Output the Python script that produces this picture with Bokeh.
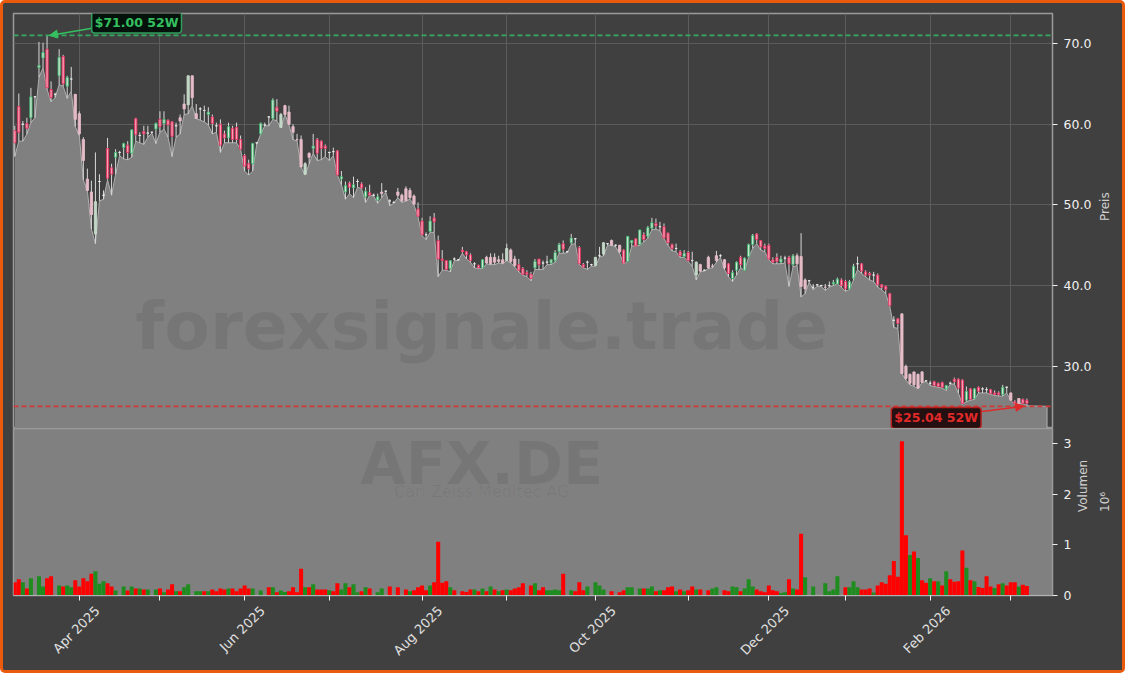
import math
from bokeh.plotting import figure
from bokeh.layouts import column
from bokeh.models import (Range1d, FixedTicker, Span, Label, Arrow, NormalHead,
                          NumeralTickFormatter, LinearAxis)
from bokeh.embed import file_html
from bokeh.resources import INLINE

open_ = [59.2,62.2,60.0,60.1,60.8,63.4,67.0,68.2,69.3,64.3,
63.7,66.0,68.4,64.7,65.6,63.7,61.3,58.1,53.2,51.6,
46.4,52.9,51.2,57.0,54.6,55.9,56.5,57.1,57.4,56.4,
60.7,58.6,59.1,58.9,59.0,59.4,60.6,60.1,60.5,60.3,
59.8,60.8,62.5,62.4,66.0,61.3,61.9,61.7,61.2,60.9,
59.8,60.0,58.8,58.3,59.5,59.6,58.1,56.1,55.1,55.1,
57.7,58.8,59.9,60.9,60.7,62.1,59.6,62.3,61.5,59.7,
58.1,58.1,53.8,56.4,57.0,58.1,57.9,57.3,56.5,56.6,
56.7,53.2,51.6,52.7,52.1,52.9,52.6,51.0,51.5,51.2,
50.6,51.6,51.7,50.5,50.3,51.6,51.2,52.0,51.8,51.1,
49.5,48.0,46.3,46.7,48.4,45.6,43.3,43.1,42.1,43.3,
43.2,44.4,44.2,43.8,42.7,42.5,42.2,43.5,43.5,43.5,
43.2,43.2,43.1,44.4,43.3,42.6,42.1,41.6,41.4,42.2,
43.3,42.8,42.9,42.8,43.1,44.2,45.2,44.2,45.3,45.8,
44.7,42.6,42.9,42.6,42.5,43.7,43.9,45.2,45.6,45.0,
45.0,44.4,43.0,45.3,45.8,45.1,46.3,46.1,47.1,47.7,
47.3,47.3,46.5,45.1,44.6,44.2,43.6,44.1,43.1,41.3,
42.6,41.9,43.5,42.4,43.7,43.7,43.2,42.7,40.9,41.9,
43.5,41.9,43.6,45.1,46.4,45.6,44.9,45.0,43.2,43.5,
42.9,43.4,43.5,42.6,43.7,43.6,40.7,40.6,39.8,40.1,
40.0,39.8,40.0,40.2,40.2,40.7,40.5,39.6,40.9,42.7,
42.7,41.7,41.5,41.3,41.3,40.1,39.9,39.0,35.7,35.9,
36.5,30.0,29.0,29.3,29.0,29.3,28.2,27.9,28.1,27.9,
28.0,27.2,27.9,28.4,28.4,28.3,25.8,27.2,26.0,27.4,
27.2,27.1,27.1,26.7,26.7,26.5,27.4,26.7,25.6,26.0,
25.9,25.8]
high = [59.8,63.8,60.4,60.8,64.5,63.5,70.2,70.1,71.0,65.3,
63.9,69.3,68.6,66.0,67.1,63.7,61.6,58.4,54.5,53.0,
56.5,53.8,51.8,58.3,55.1,56.9,56.7,57.7,57.9,59.3,
60.8,59.0,59.8,59.8,59.1,60.2,61.6,61.6,60.6,60.4,
60.2,61.2,63.7,66.0,66.0,62.5,62.1,62.3,62.1,61.2,
60.2,60.6,59.2,60.2,59.8,60.2,58.6,56.3,55.6,57.7,
57.7,60.2,60.2,61.0,63.2,63.1,61.4,62.4,62.3,60.0,
58.8,58.6,55.3,56.5,58.8,58.3,58.0,57.5,56.6,57.1,
56.8,54.2,52.9,52.9,53.5,53.2,52.8,52.2,52.5,51.4,
51.4,52.7,51.8,50.7,50.5,52.1,51.4,52.3,52.1,51.3,
50.3,48.4,46.6,48.6,49.0,46.2,44.4,43.1,43.1,43.5,
43.3,44.8,44.3,44.0,42.9,42.6,43.3,43.7,44.0,44.0,
43.7,44.0,45.2,44.6,43.7,43.3,42.3,41.9,41.7,43.3,
43.3,43.1,43.7,43.3,44.4,45.3,45.6,44.3,46.4,45.9,
44.9,42.8,43.1,42.7,43.5,44.8,45.4,45.2,45.7,45.1,
45.0,44.5,46.1,45.6,45.9,46.9,46.6,47.4,48.4,48.3,
47.9,47.7,46.6,45.2,45.2,44.4,44.4,44.3,44.2,43.0,
42.7,42.0,43.7,42.7,44.3,43.9,43.3,42.8,41.9,43.0,
43.7,43.5,45.2,46.4,46.5,45.6,45.2,45.2,43.5,44.0,
43.7,43.7,43.7,43.9,44.0,46.5,40.9,40.7,40.2,40.2,
40.1,40.2,40.5,40.7,41.0,40.9,40.7,40.7,42.7,43.6,
42.8,41.9,41.7,41.7,41.5,40.2,40.0,39.1,36.2,36.0,
36.5,30.2,29.1,29.3,29.1,29.4,28.3,28.2,28.2,28.0,
28.1,27.7,28.1,28.6,28.5,28.4,27.5,27.3,27.3,27.5,
27.4,27.4,27.2,27.0,26.9,27.7,27.5,26.7,25.8,26.0,
26.0,26.0]
low = [56.0,57.9,57.9,58.8,60.2,60.8,65.8,67.0,64.3,62.8,
63.3,64.9,64.7,63.2,64.1,59.7,58.6,53.1,51.8,47.0,
45.2,50.5,50.7,53.1,51.2,53.8,56.1,55.7,55.6,55.9,
57.9,57.7,57.5,58.4,58.9,57.6,59.0,59.4,58.4,56.0,
58.4,58.8,61.2,61.3,62.3,60.7,60.5,60.3,59.9,58.8,
59.0,56.5,57.7,57.7,57.7,57.7,56.9,54.2,53.7,54.2,
57.5,58.8,59.8,59.8,60.6,60.4,59.6,61.2,59.9,58.1,
57.9,54.7,53.7,55.1,56.4,55.5,55.6,56.0,55.5,56.1,
53.7,52.5,50.7,51.4,50.9,52.2,52.0,50.3,51.2,51.1,
50.2,50.9,51.6,49.9,50.2,50.9,50.3,50.5,50.7,50.0,
48.5,46.2,45.7,46.6,46.6,41.1,41.9,41.9,41.7,43.1,
43.1,44.0,43.3,42.9,42.2,42.1,42.1,42.7,42.6,42.6,
42.8,42.7,43.1,42.8,42.3,41.7,41.3,41.1,40.6,42.0,
42.0,42.0,42.6,42.6,42.9,44.0,44.0,44.1,45.1,45.2,
42.6,42.2,42.0,42.4,42.4,43.5,43.7,45.0,45.0,44.8,
44.0,42.7,43.0,44.9,44.9,45.0,45.4,45.9,46.9,47.0,
46.8,45.8,45.0,44.3,44.2,43.5,43.5,43.0,42.4,40.7,
41.7,41.8,42.1,42.2,42.9,43.5,42.0,41.1,40.5,41.3,
42.2,41.9,43.5,44.6,45.2,44.4,44.2,43.2,42.7,42.7,
42.7,42.8,39.9,42.3,42.5,38.6,39.0,40.4,39.5,39.9,
39.9,39.4,39.8,40.0,40.2,39.8,39.3,39.5,40.7,42.0,
41.5,41.1,40.7,40.5,39.8,39.5,39.0,37.4,34.8,34.7,
29.1,28.3,27.7,27.5,27.2,28.0,28.1,27.6,27.5,27.4,
27.3,27.0,27.8,27.8,26.7,25.3,25.6,25.8,25.9,26.7,
26.7,26.7,26.5,26.4,26.3,26.3,26.7,25.8,25.3,25.4,
25.4,25.1]
close = [57.7,59.0,60.0,59.5,63.4,63.4,67.3,68.9,64.5,63.3,
63.7,68.3,65.0,65.8,65.6,60.6,58.8,55.5,51.8,48.8,
50.4,52.9,51.2,53.3,53.8,56.5,56.5,57.6,56.5,59.3,
58.7,58.6,58.8,58.9,59.0,60.1,59.7,60.6,59.9,58.5,
59.8,60.4,61.9,66.0,63.3,60.7,61.9,61.7,61.5,60.1,
59.8,57.4,58.3,59.7,58.1,58.1,56.9,54.8,54.5,57.6,
57.7,60.1,59.9,60.9,63.0,61.6,61.2,61.2,60.0,59.0,
58.1,54.7,55.1,55.9,57.3,56.4,57.0,57.0,56.5,56.6,
53.7,53.5,52.4,52.2,52.5,52.9,52.1,51.7,51.2,51.2,
51.0,51.4,51.7,50.5,50.3,51.2,50.5,50.5,50.9,50.1,
48.6,46.3,46.3,48.0,47.9,43.3,43.1,42.0,43.1,43.3,
43.2,44.2,43.8,43.1,42.7,42.2,43.2,42.8,42.7,42.9,
43.0,42.8,44.6,43.0,42.5,41.9,41.4,41.4,40.9,43.0,
42.6,42.8,42.9,43.2,44.1,45.1,44.5,44.2,45.9,45.8,
42.7,42.3,42.9,42.6,43.5,43.7,45.3,45.2,45.0,45.0,
44.2,42.8,46.1,45.6,44.9,46.9,45.7,47.2,47.8,47.4,
47.3,45.9,45.3,44.6,44.6,43.7,44.0,43.1,43.1,42.9,
41.8,41.9,42.2,42.4,43.1,43.7,42.2,41.5,41.6,42.9,
42.6,43.4,45.1,46.2,45.7,44.8,44.6,43.3,42.9,43.0,
43.3,43.4,42.7,43.7,42.7,39.9,39.6,40.6,39.8,40.1,
40.0,39.8,40.0,40.4,40.8,40.0,39.6,40.5,42.4,42.7,
41.8,41.3,41.3,41.3,40.1,39.8,39.5,37.5,35.7,35.3,
29.1,28.5,27.9,27.7,27.3,28.0,28.2,27.9,27.6,27.5,
27.4,27.6,27.9,28.1,27.3,25.4,26.9,25.9,27.2,26.9,
27.2,27.1,26.6,26.5,26.5,27.4,27.4,25.8,25.4,25.4,
25.4,25.4]
pale_days = [15,16,17,18,19,20,41,42,43,44,45,66,67,68,69,70,71,72,73,91,95,96,97,98,99,
             117,118,119,120,121,122,123,124,144,146,148,150,169,170,172,173,174,176,
             194,195,196,201,220,221,222,223,224,225,247,249]

volume_m = [.26,.32,.26,.14,.34,0,.38,.18,.34,.38,
0,.20,.18,.20,.165,.30,.18,.34,.28,.43,
.48,.23,.28,.24,.18,.10,0,.18,.10,.18,
.14,.14,.12,.12,0,.12,.14,.065,.12,.22,
.085,.085,.165,.22,0,.085,.085,.085,.085,.12,
.085,.14,.12,.14,.14,.085,.14,.20,.14,.14,
0,.10,0,.165,.165,.065,.10,.07,.085,.165,
.065,.53,.165,.165,.22,.12,.12,.12,.105,.085,
.24,.12,.24,.165,.22,.065,.085,.165,.14,0,
.065,.14,0,.18,0,.165,0,.12,.085,.105,
.165,.20,.105,.20,.26,1.06,.25,.28,.165,.105,
0,.085,.07,.12,.12,.085,.14,.085,.18,.12,
.085,.105,.12,.105,.14,.165,.24,0,.20,.24,
.105,.165,.105,.105,.12,.105,.43,0,.105,.085,
.26,.105,.18,0,.26,.20,.12,0,.085,0,
.065,.105,.165,.165,0,.14,.14,.14,.18,.085,
.105,.105,.165,.18,.085,.12,.085,.105,.18,.12,
.12,0,.105,.14,.165,0,.105,.085,.18,.165,
.085,.14,.32,.18,.12,.085,.065,.20,.105,.085,
.05,.065,.32,.14,.12,1.22,.36,0,.18,0,
0,.24,.085,.12,.38,0,.165,.165,.28,.165,
.12,.12,.14,.06,.20,.26,.23,.40,.68,.37,
3.05,1.19,.80,.87,.74,.30,.25,.34,.28,.28,
.20,.48,.32,.27,.28,.89,.55,.30,.28,.17,
.15,.38,.18,.15,.22,.24,.20,.26,.26,.18,
.21,.19]
volume_side_rows = ["rrgrggggrr","rgrggrrrrr","gggrrgggrg","rgrgggrgrr","grgggggrgr",
"rrrgrrrrrg","gggrgrggrr","rrgrgrrrgr","rggrggrgrr","gggrrrrrgr",
"rrrgrrrrgr","rrrrgrgrgr","grgrrrrrrg","rrggggrrgr","rrgggggrrr",
"rrggggrggr","grrrgrgrrg","rrrgggrrgg","rgggrrrrrr","ggrgrrgggg",
"gggggrrggg","rrrgrrrrrr","rrgrgrrgrg","rgrrrrgrgr","rrrgrgrrrg","rr"]
volume_side = list("".join(volume_side_rows))
month_days = [16,36,57,78,101,122,144,167,187,206,227,247]
month_labels = ["Apr 2025","","Jun 2025","","Aug 2025","","Oct 2025","","Dec 2025","","Feb 2026",""]
price_ticks = [30,40,50,60,70]
volume_ticks = [0,1,2,3]
high_52w = 71.00
low_52w = 25.04
title_site = "forexsignale.trade"
title_symbol = "AFX.DE"
title_company = "Carl Zeiss Meditec AG"

BG = "#404040"
n = len(close)
days = list(range(n))
xr = (-0.32, 257.35)
yr = (22.29, 73.72)

p1 = figure(width=1119, height=425, x_range=Range1d(*xr), y_range=Range1d(*yr),
            y_axis_location="right", toolbar_location=None, output_backend="svg",
            background_fill_color=BG, border_fill_color=BG,
            min_border_left=10, min_border_right=68, min_border_top=10, min_border_bottom=0)
p2 = figure(width=1119, height=242, x_range=p1.x_range, y_range=Range1d(0, 3.3),
            y_axis_location="right", toolbar_location=None, output_backend="svg",
            background_fill_color="#808080", border_fill_color=BG,
            min_border_left=10, min_border_right=68, min_border_top=0, min_border_bottom=75)
for p in (p1, p2):
    p.outline_line_color = "#9a9a9a"
    p.outline_line_width = 1.5
    ax = p.yaxis[0]
    ax.axis_line_color = "#9a9a9a"
    ax.major_tick_line_color = "#f0f0f0"
    ax.major_tick_out = 5
    ax.major_tick_in = 0
    ax.minor_tick_line_color = None
    ax.major_label_standoff = 6
    ax.major_label_text_color = "#f0f0f0"
    ax.major_label_text_font = "DejaVu Sans"
    ax.major_label_text_font_size = "12.5px"
    ax.axis_label_text_color = "#d0d0d0"
    ax.axis_label_text_font = "DejaVu Sans"
    ax.axis_label_text_font_style = "normal"
    ax.axis_label_text_font_size = "12px"
    ax.axis_label_text_align = "center"

p1.xaxis.visible = False
p1.xgrid[0].ticker = FixedTicker(ticks=month_days)
p1.ygrid[0].ticker = FixedTicker(ticks=price_ticks)
p1.xgrid.grid_line_color = "#5c5c5c"
p1.ygrid.grid_line_color = "#5c5c5c"
p1.yaxis[0].ticker = FixedTicker(ticks=price_ticks)
p1.yaxis[0].formatter = NumeralTickFormatter(format="0.0")
p1.yaxis[0].axis_label = "Preis"
p1.yaxis[0].axis_label_orientation = math.pi / 2
p1.yaxis[0].axis_label_standoff = 11

# area under the lows, continued flat at the 52-week low
p1.varea(x=days + [256], y1=low + [low_52w], y2=[yr[0]] * (n + 1), fill_color="#808080")
p1.line(x=days + [256, 256], y=low + [low_52w, yr[0]], line_color="#b0b0b0", line_width=1)

p1.add_layout(Label(x=115.8, y=35.05, text=title_site, text_font="DejaVu Sans",
                    text_font_style="bold", text_font_size="66.5px", text_color="#000000",
                    text_alpha=0.075, text_align="center", text_baseline="middle"))

p1.segment(x0=days, y0=low, x1=days, y1=high, line_color="#d8d8d8", line_width=1)
pale = set(pale_days)
def style(i):
    up = close[i] > open_[i]
    flat = close[i] == open_[i]
    if i in pale:
        return ("#c4d8c8", "#c4d8c8") if up else ("#e6bcc8", "#e6bcc8")
    if flat:
        return ("#e8e8e8", "#f0f0f0")
    return ("#3fb56e", "#d5e6da") if up else ("#e6305f", "#f7a3b6")
styles_ = [style(i) for i in days]
p1.vbar(x=days, bottom=[min(a, b) for a, b in zip(open_, close)],
        top=[max(a, b) for a, b in zip(open_, close)], width=0.55,
        line_color=[s[0] for s in styles_], fill_color=[s[1] for s in styles_], line_width=0.9)

p1.add_layout(Span(location=high_52w, dimension="width", line_color="#35a860",
                   line_dash="5 3", line_width=1.8))
p1.add_layout(Span(location=low_52w, dimension="width", line_color="#cf3a36",
                   line_dash="5 3", line_width=1.8))
p1.add_layout(Arrow(end=NormalHead(size=8, fill_color="#35c060", line_color="#35c060"),
                    x_start=19.2, y_start=71.9, x_end=8.6, y_end=high_52w,
                    line_color="#35c060", line_width=1.5))
p1.add_layout(Arrow(end=NormalHead(size=8, fill_color="#e02a2a", line_color="#e02a2a"),
                    x_start=239.8, y_start=24.4, x_end=250.2, y_end=low_52w,
                    line_color="#e02a2a", line_width=1.5))
p1.add_layout(Label(x=30.2, y=72.6, text="$%.2f 52W" % high_52w, text_font="DejaVu Sans",
                    text_font_style="bold", text_font_size="12.5px", text_color="#35c060",
                    text_align="center", text_baseline="middle", padding=3, border_radius=3,
                    background_fill_color="#04120b", border_line_color="#2f9f5c",
                    border_line_width=1.5))
p1.add_layout(Label(x=228.5, y=23.6, text="$%.2f 52W" % low_52w, text_font="DejaVu Sans",
                    text_font_style="bold", text_font_size="12.5px", text_color="#e02a2a",
                    text_align="center", text_baseline="middle", padding=3, border_radius=3,
                    background_fill_color="#241010", border_line_color="#b52020",
                    border_line_width=1.5))

p2.grid.visible = False
p2.add_layout(Label(x=115.8, y=2.6, text=title_symbol, text_font="DejaVu Sans",
                    text_font_style="bold", text_font_size="59px", text_color="#000000",
                    text_alpha=0.075, text_align="center", text_baseline="middle"))
p2.add_layout(Label(x=115.8, y=2.05, text=title_company, text_font="DejaVu Sans",
                    text_font_size="16px", text_color="#000000", text_alpha=0.06,
                    text_align="center", text_baseline="middle"))
p2.vbar(x=days, top=volume_m, bottom=0, width=1.0, line_color=None,
        fill_color=["#ff0000" if s == "r" else "#1e8c1e" for s in volume_side])

ya = p2.yaxis[0]
ya.ticker = FixedTicker(ticks=volume_ticks)
ya.axis_label = "Volumen"
ya.axis_label_orientation = math.pi / 2
ya.axis_label_standoff = 9

# the 10^6 scale note: an axis of its own beside the volume axis, with label only
ea = LinearAxis(ticker=FixedTicker(ticks=[]), axis_label="10\u2076")
ea.axis_line_color = None
ea.major_tick_line_color = None
ea.minor_tick_line_color = None
ea.major_tick_out = 0
ea.major_tick_in = 0
ea.major_label_standoff = 0
ea.axis_label_standoff = 4
ea.axis_label_orientation = math.pi / 2
ea.axis_label_text_align = "center"
ea.axis_label_text_color = "#d0d0d0"
ea.axis_label_text_font = "DejaVu Sans"
ea.axis_label_text_font_style = "normal"
ea.axis_label_text_font_size = "12px"
p2.add_layout(ea, "right")

# ticks on the month starts
xa = p2.xaxis[0]
xa.ticker = FixedTicker(ticks=month_days)
xa.major_label_overrides = {d: "" for d in month_days}
xa.major_label_text_font_size = "1px"
xa.major_label_standoff = 0
xa.major_tick_line_color = "#f0f0f0"
xa.major_tick_out = 5
xa.major_tick_in = 0
xa.minor_tick_line_color = None
xa.axis_line_color = "#b0b0b0"

# the slanted month names sit centred under their ticks: a rotated axis label
# ends at its anchor, so this second axis anchors them half a label to the right
label_shift = 4.5
named = [(d + label_shift, t) for d, t in zip(month_days, month_labels) if t]
la = LinearAxis(ticker=FixedTicker(ticks=[d for d, _ in named]),
                major_label_overrides={d: t for d, t in named})
la.major_label_orientation = math.pi / 4
la.major_label_standoff = 8
la.major_label_text_color = "#e0e0e0"
la.major_label_text_font = "DejaVu Sans"
la.major_label_text_font_size = "13px"
la.major_tick_out = 0
la.major_tick_in = 0
la.major_tick_line_color = None
la.minor_tick_line_color = None
la.axis_line_color = None
p2.add_layout(la, "below")

root = column(p1, p2, spacing=0,
              styles={"border": "3px solid #ea5a0c", "border-radius": "5px",
                      "background-color": BG})
open("out.html", "w").write(file_html(root, INLINE))
